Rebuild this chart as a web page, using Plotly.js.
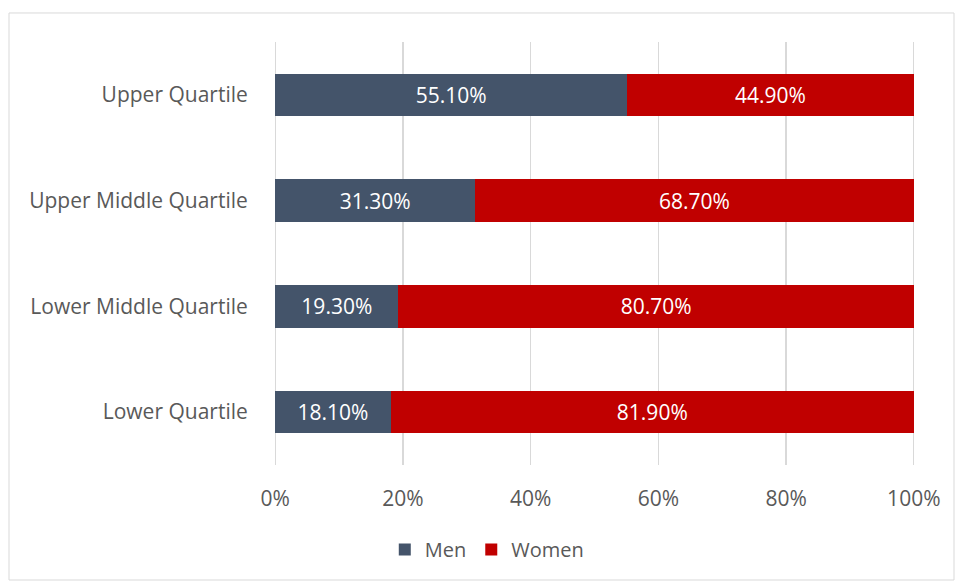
<!DOCTYPE html>
<html><head><meta charset="utf-8">
<script src="https://cdn.plot.ly/plotly-3.0.1.min.js"></script>
<style>html,body{margin:0;padding:0;background:#fff}#chart{width:955px;height:581px}</style>
</head><body><div id="chart"></div>
<script>
const categories = ["Upper Quartile", "Upper Middle Quartile", "Lower Middle Quartile", "Lower Quartile"];
const menValues = [55.1, 31.3, 19.3, 18.1];
const womenValues = [44.9, 68.7, 80.7, 81.9];
const tickValues = [0, 20, 40, 60, 80, 100];
const tickLabels = ["0%", "20%", "40%", "60%", "80%", "100%"];

const font = "Open Sans, Noto Sans, sans-serif";
const traces = [
  {type: "bar", orientation: "h", name: "Men", y: categories, x: menValues,
   marker: {color: "#44546A"}, text: menValues, texttemplate: "%{x:.2f}%",
   textposition: "inside", insidetextanchor: "middle",
   textfont: {color: "#ffffff", size: 21, family: font}},
  {type: "bar", orientation: "h", name: "Women", y: categories, x: womenValues,
   marker: {color: "#C00000"}, text: womenValues, texttemplate: "%{x:.2f}%",
   textposition: "inside", insidetextanchor: "middle",
   textfont: {color: "#ffffff", size: 21, family: font}}
];
const layout = {
  width: 955, height: 581,
  margin: {l: 272, r: 38, t: 42, b: 116},
  barmode: "stack", bargap: 0.6,
  paper_bgcolor: "#ffffff", plot_bgcolor: "#ffffff",
  font: {family: font, color: "#595959", size: 21},
  xaxis: {range: [-0.5, 100.5], tickmode: "array", tickvals: tickValues, ticktext: tickLabels,
    showgrid: true, gridcolor: "#d9d9d9", gridwidth: 1.3, zeroline: false,
    showline: false, ticks: "outside", ticklen: 15, tickcolor: "rgba(0,0,0,0)",
    tickfont: {size: 21, color: "#595959", family: font}},
  yaxis: {type: "category", categoryorder: "array", categoryarray: categories,
    autorange: "reversed", showgrid: false, zeroline: false, showline: false,
    ticks: "outside", ticklen: 19, tickcolor: "rgba(0,0,0,0)",
    tickfont: {size: 21, color: "#595959", family: font}},
  legend: {orientation: "h", x: 0.333, xanchor: "center", y: -0.20, yanchor: "middle",
    font: {size: 20, color: "#595959", family: font}, traceorder: "normal", itemwidth: 30},
  shapes: [{type: "rect", xref: "paper", yref: "paper",
    x0: (9 - 272) / 645, x1: (954 - 272) / 645, y0: -0.2719, y1: 1.0686,
    line: {color: "#d9d9d9", width: 1}, fillcolor: "rgba(0,0,0,0)", layer: "below"}],
  showlegend: true
};
Plotly.newPlot("chart", traces, layout, {displayModeBar: false, staticPlot: true});
</script></body></html>
